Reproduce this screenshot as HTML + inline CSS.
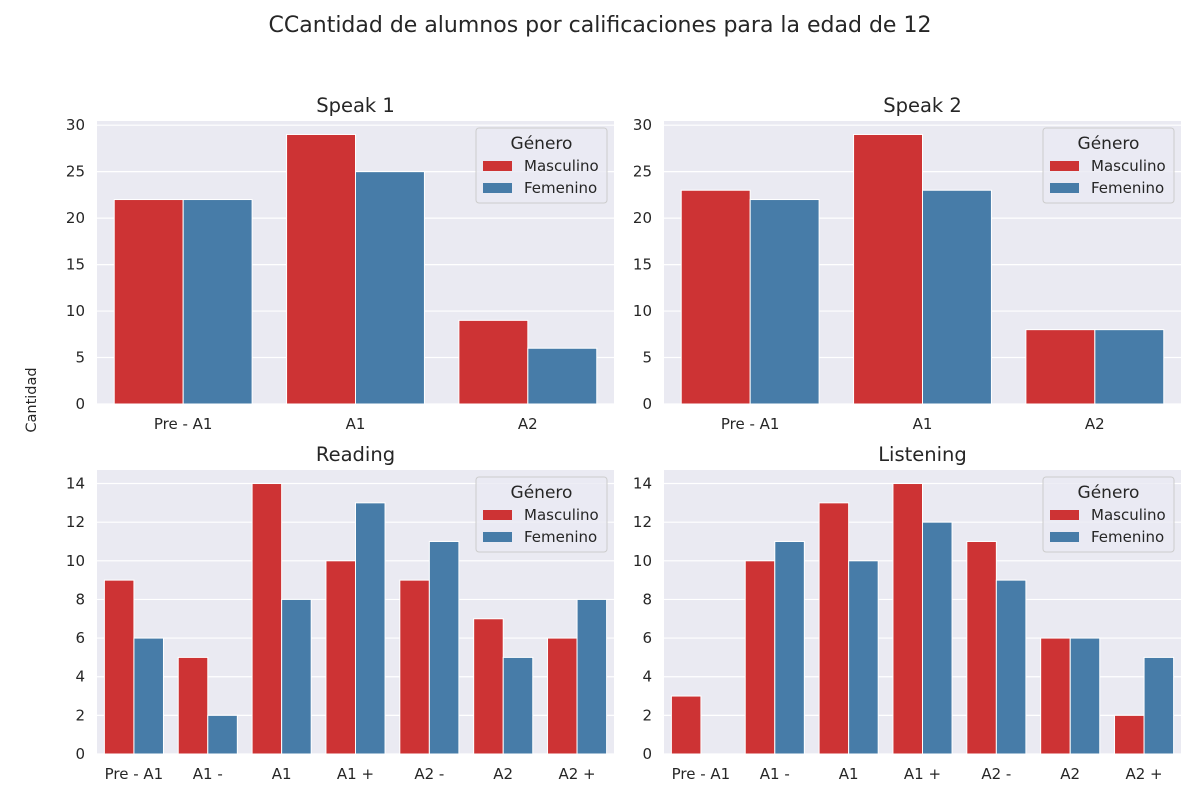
<!DOCTYPE html>
<html><head><meta charset="utf-8"><style>
body{margin:0;background:#fff;}
svg{display:block;font-family:"DejaVu Sans","Liberation Sans",sans-serif;}
</style></head><body>
<svg id="c" width="1200" height="800" xmlns="http://www.w3.org/2000/svg">
<text x="600" y="32" text-anchor="middle" font-size="22" fill="#262626">CCantidad de alumnos por calificaciones para la edad de 12</text>
<text x="0" y="0" transform="translate(36,400) rotate(-90)" text-anchor="middle" font-size="14.5" fill="#262626">Cantidad</text>
</svg>
<script>
const speak1Cats = ["Pre - A1","A1","A2"];
const speak1Masc = [22,29,9];
const speak1Fem = [22,25,6];
const speak2Cats = ["Pre - A1","A1","A2"];
const speak2Masc = [23,29,8];
const speak2Fem = [22,23,8];
const readCats = ["Pre - A1","A1 -","A1","A1 +","A2 -","A2","A2 +"];
const readMasc = [9,5,14,10,9,7,6];
const readFem = [6,2,8,13,11,5,8];
const listenCats = ["Pre - A1","A1 -","A1","A1 +","A2 -","A2","A2 +"];
const listenMasc = [3,10,13,14,11,6,2];
const listenFem = [0,11,10,12,9,6,5];
const topTicks = [0,5,10,15,20,25,30];
const botTicks = [0,2,4,6,8,10,12,14];

const svg = document.getElementById('c');
const NS = 'http://www.w3.org/2000/svg';
function mk(tag, attrs, parent){
  const e = document.createElementNS(NS, tag);
  for (const k in attrs) e.setAttribute(k, attrs[k]);
  (parent||svg).appendChild(e);
  return e;
}
const RED = '#cd3334', BLUE = '#477ca8';

function panel(key, title, x0, x1, y0, y1, cats, m, f, ticks){
  const g = mk('g', {});
  
  
  const ymax = Math.max(...m, ...f) * 1.05;
  const ys = v => y1 - v / ymax * (y1 - y0);
  const n = cats.length;
  const cw = (x1 - x0) / n;
  const xs = i => x0 + (i + 0.5) * cw;
  const bg = mk('rect', {x:x0, y:y0, width:x1-x0, height:y1-y0, fill:'#eaeaf2'}, g);
  
  
  ticks.forEach(t => {
    const y = ys(t);
    mk('line', {x1:x0, x2:x1, y1:y, y2:y, stroke:'#fff', 'stroke-width':1.2}, g);
    const tl = mk('text', {x:x0-12, y:y+5, 'text-anchor':'end', 'font-size':15, fill:'#262626'}, g);
    tl.textContent = t;
    
    
  });
  cats.forEach((c, i) => {
    const cx = xs(i);
    [[m[i], RED, -1, 'masculino'], [f[i], BLUE, 0, 'femenino']].forEach(([v, col, off, nm]) => {
      const bx = cx + off * 0.4 * cw;
      const r = mk('rect', {x:bx, y:ys(v), width:0.4*cw, height:y1-ys(v), fill:col, stroke:'#fff', 'stroke-width':1}, g);
      
      
    });
    const xl = mk('text', {x:cx, y:y1+25, 'text-anchor':'middle', 'font-size':15, fill:'#262626'}, g);
    xl.textContent = c;
    
    
  });
  const tt = mk('text', {x:(x0+x1)/2, y:y0-9, 'text-anchor':'middle', 'font-size':19.5, fill:'#262626'}, g);
  tt.textContent = title;
  
  
  const lg = mk('g', {}, g);
  
  
  const lx = x1 - 138, ly = y0 + 7;
  mk('rect', {x:lx, y:ly, width:131, height:75, rx:3, fill:'#eaeaf2', 'fill-opacity':0.8, stroke:'#cccccc'}, lg);
  const lt = mk('text', {x:lx+65.5, y:ly+21, 'text-anchor':'middle', 'font-size':17, fill:'#262626'}, lg);
  lt.textContent = 'Género';
  [['Masculino', RED], ['Femenino', BLUE]].forEach(([lab, col], k) => {
    const e = mk('g', {}, lg);
    
    
    mk('rect', {x:lx+7, y:ly+33+k*22, width:29, height:10, fill:col}, e);
    const t = mk('text', {x:lx+48, y:ly+43+k*22, 'font-size':15, fill:'#262626'}, e);
    t.textContent = lab;
  });
}
panel('speak-1', 'Speak 1', 97, 614, 121, 404, speak1Cats, speak1Masc, speak1Fem, topTicks);
panel('speak-2', 'Speak 2', 664, 1181, 121, 404, speak2Cats, speak2Masc, speak2Fem, topTicks);
panel('reading', 'Reading', 97, 614, 470, 754, readCats, readMasc, readFem, botTicks);
panel('listening', 'Listening', 664, 1181, 470, 754, listenCats, listenMasc, listenFem, botTicks);
</script>
</body></html>
